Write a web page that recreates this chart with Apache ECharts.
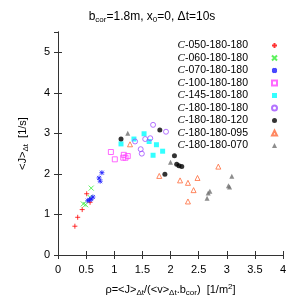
<!DOCTYPE html>
<html><head><meta charset="utf-8">
<script src="https://cdn.jsdelivr.net/npm/echarts@6/dist/echarts.min.js"></script>
<style>html,body{margin:0;padding:0;background:#fff}#c{width:304px;height:305px}</style>
</head><body><div id="c"></div>
<script>
var seriesNames = ['C-050-180-180','C-060-180-180','C-070-180-180','C-100-180-180','C-145-180-180','C-180-180-180','C-180-180-120','C-180-180-095','C-180-180-070'];
var c050 = [[0.30,0.71],[0.35,0.93],[0.43,1.12],[0.51,1.51],[0.57,1.30]];
var c060 = [[0.59,1.65],[0.45,1.26],[0.49,1.24],[0.57,1.42]];
var c070 = [[0.78,2.03],[0.73,1.90],[0.75,1.82],[0.62,1.43],[0.59,1.38],[0.53,1.34],[0.56,1.36]];
var c100 = [[0.94,2.54],[1.01,2.36],[1.17,2.47],[1.20,2.40],[1.16,2.40],[1.24,2.44]];
var c145 = [[1.12,2.74],[1.35,2.86],[1.53,2.99],[1.62,2.80],[1.75,2.72],[1.86,2.56],[1.69,2.46]];
var c180 = [[1.69,3.21],[1.92,3.04],[1.37,2.80],[1.55,2.86],[1.64,2.88],[1.47,2.61],[1.49,2.50]];
var c120 = [[1.12,2.86],[1.81,3.08],[2.07,2.45],[2.11,2.24],[2.15,2.20],[2.20,2.18],[1.90,1.99]];
var c095 = [[1.28,2.73],[1.80,1.95],[2.17,1.84],[2.31,1.78],[2.48,1.90],[2.41,1.60],[2.31,1.32],[2.85,2.18]];
var c070b = [[1.24,3.00],[2.00,2.29],[3.09,1.94],[3.03,1.71],[3.05,1.68],[2.70,1.57],[2.67,1.53],[2.65,1.40]];
var xTicks = [0,0.5,1,1.5,2,2.5,3,3.5,4];
var yTicks = [0,1,2,3,4,5];

var PLUS = 'path://M5,0L5,10M0,5L10,5';
var CROSS = 'path://M0,0L10,10M10,0L0,10';
var STAR = 'path://M5,0L5,10M0,5L10,5M1,1L9,9M9,1L1,9';
var F = 'Liberation Sans, Arial, sans-serif';

function mk(name, data, symbol, size, color, filled) {
  return {
    name: name, type: 'scatter', data: data, symbol: symbol, symbolSize: size,
    itemStyle: filled ? {color: color, borderWidth: 0} : {color: 'rgba(0,0,0,0)', borderColor: color, borderWidth: 1},
    emphasis: {disabled: true}, animation: false
  };
}
var dataSets = [c050,c060,c070,c100,c145,c180,c120,c095,c070b];
var symbols = [PLUS, CROSS, STAR, 'rect', 'rect', 'circle', 'circle', 'triangle', 'triangle'];
var sizes = [5, 5, 5, 5, 5, 5, 5, 5, 5];
var colors = ['#ff0000','#33ee33','#1a1aff','#ff44ff','#00ffff','#a050ff','#000000','#ff6a3a','#707070'];
var filled = [false,false,false,false,true,false,true,false,true];
var series = [];
for (var i = 0; i < seriesNames.length; i++) series.push(mk(seriesNames[i], dataSets[i], symbols[i], sizes[i], colors[i], filled[i]));

var axisLine = {show: true, lineStyle: {color: '#333', width: 1}};
var chart = echarts.init(document.getElementById('c'), null, {renderer: 'canvas'});
chart.setOption({
  backgroundColor: '#fff',
  animation: false,
  title: {
    text: '{n|b}{s|cor}{n|=1.8m, x}{s|0}{n|=0, Δt=10s}',
    left: 'center', top: 4,
    textStyle: {fontWeight: 'normal', rich: {
      n: {fontSize: 12, fontFamily: F, color: '#000', fontWeight: 'normal'},
      s: {fontSize: 8, fontFamily: F, color: '#000', fontWeight: 'normal', padding: [7,0,0,0]}
    }}
  },
  grid: {left: 58, right: 21, top: 32, bottom: 50},
  legend: {
    orient: 'vertical', right: 21, top: 35, align: 'right',
    itemWidth: 5, itemHeight: 5, itemGap: 1.5,
    data: seriesNames,
    formatter: function (n) { return '{i|C}{t|' + n.slice(1) + '}'; },
    textStyle: {padding: [0, 19, 0, 0], lineHeight: 11, rich: {
      i: {fontFamily: 'Liberation Serif, serif', fontStyle: 'italic', fontSize: 11, lineHeight: 11, color: '#000'},
      t: {fontFamily: F, fontSize: 10.5, lineHeight: 11, color: '#000'}
    }}
  },
  xAxis: [{
    type: 'value', min: 0, max: 4, interval: 0.5, position: 'bottom',
    axisLine: axisLine, splitLine: {show: false},
    axisTick: {show: true, inside: true, length: 4, lineStyle: {color: '#333'}},
    axisLabel: {fontSize: 11, fontFamily: F, color: '#000', margin: 9,
      formatter: function (v) { return xTicks.indexOf(v) >= 0 ? String(v) : ''; }},
    name: '{n|ρ=<J>}{s|Δt}{n|/(<v>}{s|Δt}{n|.b}{s|cor}{n|)  [1/m}{p|2}{n|]}',
    nameLocation: 'middle', nameGap: 27,
    nameTextStyle: {rich: {
      n: {fontSize: 11, fontFamily: F, color: '#000'},
      s: {fontSize: 8, fontFamily: F, color: '#000', padding: [7,0,0,0]},
      p: {fontSize: 8, fontFamily: F, color: '#000', padding: [0,0,6,0]}
    }}
  }, {
    type: 'value', min: 0, max: 4, interval: 0.5, position: 'top',
    axisLine: axisLine, splitLine: {show: false}, axisLabel: {show: false},
    axisTick: {show: true, inside: true, length: 4, lineStyle: {color: '#333'}}
  }],
  yAxis: [{
    type: 'value', min: 0, max: 5.5, interval: 1, position: 'left',
    axisLine: axisLine, splitLine: {show: false},
    axisTick: {show: true, inside: true, length: 4, lineStyle: {color: '#333'}},
    axisLabel: {fontSize: 11, fontFamily: F, color: '#000', margin: 8, showMaxLabel: false,
      formatter: function (v) { return yTicks.indexOf(v) >= 0 ? String(v) : ''; }},
    name: '{n|<J>}{s|Δt}{n|  [1/s]}',
    nameLocation: 'middle', nameGap: 28, nameRotate: 90,
    nameTextStyle: {rich: {
      n: {fontSize: 11, fontFamily: F, color: '#000'},
      s: {fontSize: 8, fontFamily: F, color: '#000', padding: [7,0,0,0]}
    }}
  }, {
    type: 'value', min: 0, max: 5.5, interval: 1, position: 'right',
    axisLine: axisLine, splitLine: {show: false}, axisLabel: {show: false},
    axisTick: {show: true, inside: true, length: 4, lineStyle: {color: '#333'}}
  }],
  series: series
});
</script></body></html>
